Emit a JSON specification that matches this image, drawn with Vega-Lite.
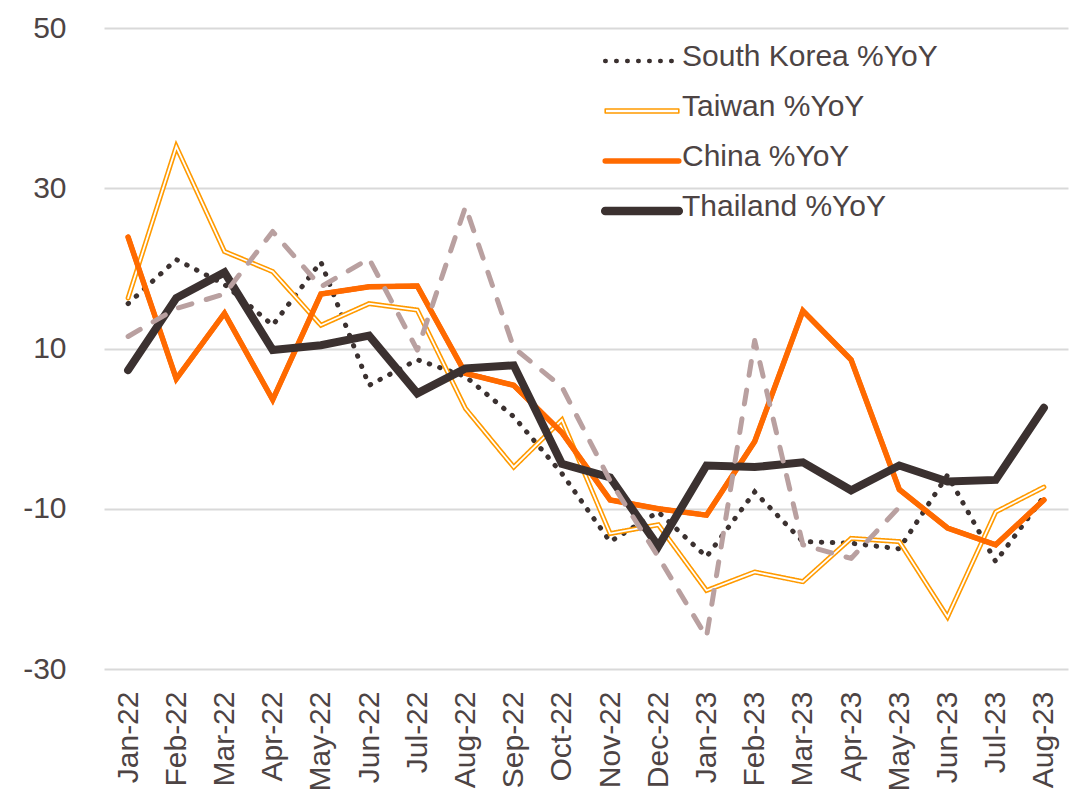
{
  "$schema": "https://vega.github.io/schema/vega-lite/v6.json",
  "width": 964,
  "height": 641,
  "autosize": {"type": "none"},
  "padding": {"left": 104, "top": 28, "right": 16, "bottom": 127},
  "background": "white",
  "config": {
    "view": {"stroke": null},
    "font": "Liberation Sans",
    "axis": {"labelColor": "#4d4444", "labelFontSize": 30, "labelFont": "Liberation Sans", "domain": false, "ticks": false, "title": null}
  },
  "datasets": {
    "main": [
      {"month": "Jan-22", "series": "South Korea %YoY", "value": 15.6},
      {"month": "Feb-22", "series": "South Korea %YoY", "value": 21.1},
      {"month": "Mar-22", "series": "South Korea %YoY", "value": 18.0},
      {"month": "Apr-22", "series": "South Korea %YoY", "value": 12.9},
      {"month": "May-22", "series": "South Korea %YoY", "value": 20.8},
      {"month": "Jun-22", "series": "South Korea %YoY", "value": 5.4},
      {"month": "Jul-22", "series": "South Korea %YoY", "value": 8.6},
      {"month": "Aug-22", "series": "South Korea %YoY", "value": 6.5},
      {"month": "Sep-22", "series": "South Korea %YoY", "value": 1.5},
      {"month": "Oct-22", "series": "South Korea %YoY", "value": -5.6},
      {"month": "Nov-22", "series": "South Korea %YoY", "value": -14.1},
      {"month": "Dec-22", "series": "South Korea %YoY", "value": -10.4},
      {"month": "Jan-23", "series": "South Korea %YoY", "value": -16.0},
      {"month": "Feb-23", "series": "South Korea %YoY", "value": -7.9},
      {"month": "Mar-23", "series": "South Korea %YoY", "value": -14.1},
      {"month": "Apr-23", "series": "South Korea %YoY", "value": -14.3},
      {"month": "May-23", "series": "South Korea %YoY", "value": -15.0},
      {"month": "Jun-23", "series": "South Korea %YoY", "value": -5.8},
      {"month": "Jul-23", "series": "South Korea %YoY", "value": -16.6},
      {"month": "Aug-23", "series": "South Korea %YoY", "value": -8.5},
      {"month": "Jan-22", "series": "Taiwan %YoY", "value": 16.3},
      {"month": "Feb-22", "series": "Taiwan %YoY", "value": 35.2},
      {"month": "Mar-22", "series": "Taiwan %YoY", "value": 22.1},
      {"month": "Apr-22", "series": "Taiwan %YoY", "value": 19.6},
      {"month": "May-22", "series": "Taiwan %YoY", "value": 12.9},
      {"month": "Jun-22", "series": "Taiwan %YoY", "value": 15.6},
      {"month": "Jul-22", "series": "Taiwan %YoY", "value": 14.8},
      {"month": "Aug-22", "series": "Taiwan %YoY", "value": 2.5},
      {"month": "Sep-22", "series": "Taiwan %YoY", "value": -4.8},
      {"month": "Oct-22", "series": "Taiwan %YoY", "value": 1.1},
      {"month": "Nov-22", "series": "Taiwan %YoY", "value": -13.1},
      {"month": "Dec-22", "series": "Taiwan %YoY", "value": -12.0},
      {"month": "Jan-23", "series": "Taiwan %YoY", "value": -20.2},
      {"month": "Feb-23", "series": "Taiwan %YoY", "value": -17.9},
      {"month": "Mar-23", "series": "Taiwan %YoY", "value": -19.1},
      {"month": "Apr-23", "series": "Taiwan %YoY", "value": -13.7},
      {"month": "May-23", "series": "Taiwan %YoY", "value": -14.1},
      {"month": "Jun-23", "series": "Taiwan %YoY", "value": -23.5},
      {"month": "Jul-23", "series": "Taiwan %YoY", "value": -10.4},
      {"month": "Aug-23", "series": "Taiwan %YoY", "value": -7.3},
      {"month": "Jan-22", "series": "China %YoY", "value": 23.9},
      {"month": "Feb-22", "series": "China %YoY", "value": 6.2},
      {"month": "Mar-22", "series": "China %YoY", "value": 14.4},
      {"month": "Apr-22", "series": "China %YoY", "value": 3.6},
      {"month": "May-22", "series": "China %YoY", "value": 16.8},
      {"month": "Jun-22", "series": "China %YoY", "value": 17.7},
      {"month": "Jul-22", "series": "China %YoY", "value": 17.8},
      {"month": "Aug-22", "series": "China %YoY", "value": 6.9},
      {"month": "Sep-22", "series": "China %YoY", "value": 5.4},
      {"month": "Oct-22", "series": "China %YoY", "value": -0.5},
      {"month": "Nov-22", "series": "China %YoY", "value": -8.9},
      {"month": "Dec-22", "series": "China %YoY", "value": -10.0},
      {"month": "Jan-23", "series": "China %YoY", "value": -10.8},
      {"month": "Feb-23", "series": "China %YoY", "value": -1.6},
      {"month": "Mar-23", "series": "China %YoY", "value": 14.7},
      {"month": "Apr-23", "series": "China %YoY", "value": 8.6},
      {"month": "May-23", "series": "China %YoY", "value": -7.6},
      {"month": "Jun-23", "series": "China %YoY", "value": -12.4},
      {"month": "Jul-23", "series": "China %YoY", "value": -14.5},
      {"month": "Aug-23", "series": "China %YoY", "value": -8.9},
      {"month": "Jan-22", "series": "Thailand %YoY", "value": 7.3},
      {"month": "Feb-22", "series": "Thailand %YoY", "value": 16.3},
      {"month": "Mar-22", "series": "Thailand %YoY", "value": 19.5},
      {"month": "Apr-22", "series": "Thailand %YoY", "value": 9.8},
      {"month": "May-22", "series": "Thailand %YoY", "value": 10.4},
      {"month": "Jun-22", "series": "Thailand %YoY", "value": 11.6},
      {"month": "Jul-22", "series": "Thailand %YoY", "value": 4.4},
      {"month": "Aug-22", "series": "Thailand %YoY", "value": 7.5},
      {"month": "Sep-22", "series": "Thailand %YoY", "value": 7.9},
      {"month": "Oct-22", "series": "Thailand %YoY", "value": -4.4},
      {"month": "Nov-22", "series": "Thailand %YoY", "value": -6.1},
      {"month": "Dec-22", "series": "Thailand %YoY", "value": -14.7},
      {"month": "Jan-23", "series": "Thailand %YoY", "value": -4.6},
      {"month": "Feb-23", "series": "Thailand %YoY", "value": -4.8},
      {"month": "Mar-23", "series": "Thailand %YoY", "value": -4.2},
      {"month": "Apr-23", "series": "Thailand %YoY", "value": -7.7},
      {"month": "May-23", "series": "Thailand %YoY", "value": -4.6},
      {"month": "Jun-23", "series": "Thailand %YoY", "value": -6.6},
      {"month": "Jul-23", "series": "Thailand %YoY", "value": -6.4},
      {"month": "Aug-23", "series": "Thailand %YoY", "value": 2.6}
    ],
    "other": [
      {"month": "Jan-22", "series": "Unlabelled %YoY", "value": 11.5},
      {"month": "Feb-22", "series": "Unlabelled %YoY", "value": 15.0},
      {"month": "Mar-22", "series": "Unlabelled %YoY", "value": 16.8},
      {"month": "Apr-22", "series": "Unlabelled %YoY", "value": 24.6},
      {"month": "May-22", "series": "Unlabelled %YoY", "value": 17.7},
      {"month": "Jun-22", "series": "Unlabelled %YoY", "value": 21.2},
      {"month": "Jul-22", "series": "Unlabelled %YoY", "value": 9.8},
      {"month": "Aug-22", "series": "Unlabelled %YoY", "value": 27.7},
      {"month": "Sep-22", "series": "Unlabelled %YoY", "value": 10.1},
      {"month": "Oct-22", "series": "Unlabelled %YoY", "value": 5.2},
      {"month": "Nov-22", "series": "Unlabelled %YoY", "value": -6.5},
      {"month": "Dec-22", "series": "Unlabelled %YoY", "value": -16.0},
      {"month": "Jan-23", "series": "Unlabelled %YoY", "value": -26.0},
      {"month": "Feb-23", "series": "Unlabelled %YoY", "value": 11.0},
      {"month": "Mar-23", "series": "Unlabelled %YoY", "value": -14.5},
      {"month": "Apr-23", "series": "Unlabelled %YoY", "value": -16.2},
      {"month": "May-23", "series": "Unlabelled %YoY", "value": -9.8}
    ]
  },
  "encoding": {
    "x": {
      "field": "month",
      "type": "ordinal",
      "sort": ["Jan-22","Feb-22","Mar-22","Apr-22","May-22","Jun-22","Jul-22","Aug-22","Sep-22","Oct-22","Nov-22","Dec-22","Jan-23","Feb-23","Mar-23","Apr-23","May-23","Jun-23","Jul-23","Aug-23"],
      "scale": {"type": "point", "padding": 0.5},
      "axis": {"labelAngle": -90, "labelPadding": 22, "grid": false}
    },
    "y": {
      "field": "value",
      "type": "quantitative",
      "scale": {"domain": [-30, 50], "nice": false, "zero": false},
      "axis": {"values": [-30, -10, 10, 30, 50], "labelExpr": "'' + datum.value", "grid": true, "gridColor": "#d9d9d9", "gridWidth": 2, "labelPadding": 38}
    },
    "order": {"value": null}
  },
  "layer": [
    {
      "data": {"name": "main"},
      "mark": {"type": "line", "strokeCap": "round", "strokeJoin": "miter", "strokeWidth": 5},
      "encoding": {
        "color": {
          "field": "series", "type": "nominal",
          "scale": {"domain": ["South Korea %YoY", "Taiwan %YoY", "China %YoY", "Thailand %YoY"], "range": ["#3b3130", "#ff9a00", "#ff6a00", "#3b3130"]},
          "legend": {
            "orient": "none", "legendX": 523, "legendY": 18, "title": null, "padding": 0,
            "symbolType": "stroke", "symbolSize": 2116, "labelFontSize": 30, "labelColor": "#4d4444", "labelFont": "Liberation Sans",
            "labelOffset": 25, "rowPadding": 20, "labelLimit": 500,
            "encode": {
              "symbols": {"update": {
                "shape": {"signal": "datum.value === 'Taiwan %YoY' ? 'M-1.6,-0.085H1.6M-1.6,0.085H1.6M-1.6,-0.085V0.085M1.6,-0.085V0.085' : 'M-1.6,0H1.6'"},
                "fill": {"value": "transparent"},
                "strokeWidth": {"signal": "datum.value === 'Taiwan %YoY' ? 1.6 : datum.value === 'China %YoY' ? 5.5 : datum.value === 'Thailand %YoY' ? 8.5 : 4.5"},
                "strokeDash": {"signal": "datum.value === 'South Korea %YoY' ? [0.5, 10.5] : [1, 0]"},
                "strokeCap": {"value": "round"},
                "opacity": {"value": 1}
              }},
              "labels": {"update": {"dy": {"value": -4}}}
            }
          }
        },
        "strokeDash": {
          "field": "series", "type": "nominal", "legend": null,
          "scale": {"domain": ["South Korea %YoY", "Taiwan %YoY", "China %YoY", "Thailand %YoY"], "range": [[0.5, 10.5], [1, 0], [1, 0], [1, 0]]}
        }
      }
    },
    {
      "data": {"name": "main"},
      "transform": [{"filter": {"field": "series", "equal": "Taiwan %YoY"}}],
      "mark": {"type": "line", "color": "#ffffff", "strokeWidth": 1.8, "strokeJoin": "miter", "strokeCap": "round"}
    },
    {
      "data": {"name": "main"},
      "transform": [{"filter": {"field": "series", "equal": "China %YoY"}}],
      "mark": {"type": "line", "color": "#ff6a00", "strokeWidth": 5.5, "strokeJoin": "miter", "strokeCap": "round"}
    },
    {
      "data": {"name": "main"},
      "transform": [{"filter": {"field": "series", "equal": "Thailand %YoY"}}],
      "mark": {"type": "line", "color": "#3b3130", "strokeWidth": 8, "strokeJoin": "miter", "strokeCap": "round"}
    },
    {
      "data": {"name": "other"},
      "mark": {"type": "line", "color": "#b9a0a0", "strokeWidth": 5, "strokeDash": [14, 15], "strokeCap": "round", "strokeJoin": "round"}
    }
  ]
}
